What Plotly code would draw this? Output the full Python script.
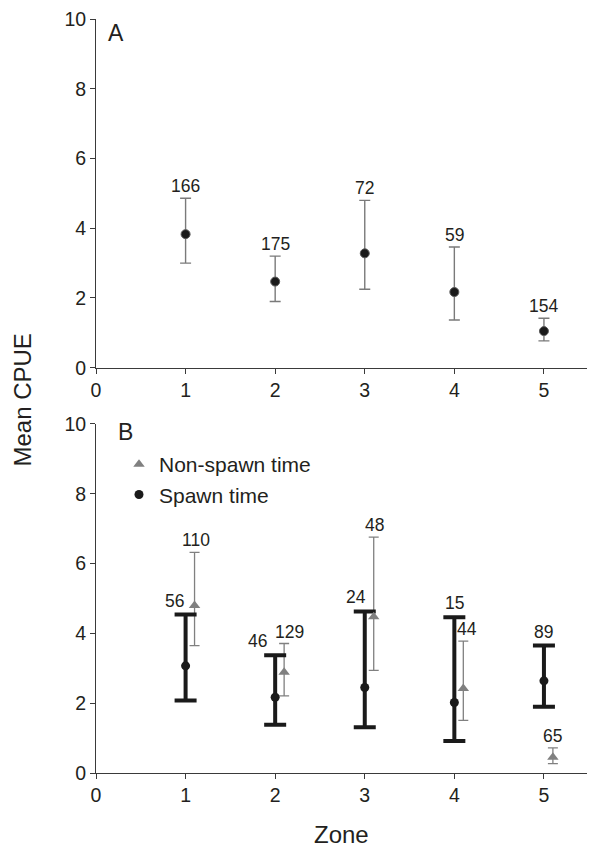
import plotly.graph_objects as go

# ---------------- data ----------------
zones = [1, 2, 3, 4, 5]
x_ticks = [0, 1, 2, 3, 4, 5]
y_ticks = [0, 2, 4, 6, 8, 10]

# Panel A: all times
a_mean = [3.83, 2.47, 3.28, 2.17, 1.05]
a_upper = [4.86, 3.20, 4.80, 3.46, 1.42]
a_lower = [3.00, 1.90, 2.25, 1.37, 0.77]
a_n = [166, 175, 72, 59, 154]

# Panel B: spawn time
s_mean = [3.07, 2.17, 2.45, 2.02, 2.64]
s_upper = [4.54, 3.37, 4.63, 4.46, 3.65]
s_lower = [2.08, 1.38, 1.31, 0.92, 1.90]
s_n = [56, 46, 24, 15, 89]

# Panel B: non-spawn time
ns_mean = [4.80, 2.89, 4.48, 2.42, 0.45]
ns_upper = [6.32, 3.71, 6.76, 3.78, 0.72]
ns_lower = [3.65, 2.21, 2.94, 1.51, 0.27]
ns_n = [110, 129, 48, 44, 65]

# ---------------- style ----------------
FONT = "Liberation Sans, Arial, sans-serif"
TXT = "#231f20"
AXC = "#3a3a3a"
GREY = "#808080"
BLACK = "#1a1a1a"
NS_OFFSET = 0.1

W, H = 587, 839          # page body has an 8px margin
ML, MT, MB = 88, 11, 74
PW = W - ML              # plot width
PH = H - MT - MB         # plot height


def err(mean, up, lo):
    return ([u - m for u, m in zip(up, mean)], [m - l for m, l in zip(mean, lo)])


fig = go.Figure()

# Panel A
ea, eam = err(a_mean, a_upper, a_lower)
fig.add_trace(go.Scatter(
    x=zones, y=a_mean, mode="markers", showlegend=False,
    marker=dict(symbol="circle", size=9, color=BLACK, line=dict(color="#5a5a5a", width=1)),
    error_y=dict(type="data", symmetric=False, array=ea, arrayminus=eam,
                 color="#7a7a7a", thickness=1.4, width=5.5),
    xaxis="x", yaxis="y"))

# Panel B
ns_x = [z + NS_OFFSET for z in zones]
en, enm = err(ns_mean, ns_upper, ns_lower)
es, esm = err(s_mean, s_upper, s_lower)

# non-spawn error bars (beneath)
fig.add_trace(go.Scatter(
    x=ns_x, y=ns_mean, mode="markers", showlegend=False,
    marker=dict(symbol="triangle-up", size=10, color="rgba(0,0,0,0)"),
    error_y=dict(type="data", symmetric=False, array=en, arrayminus=enm,
                 color=GREY, thickness=1.3, width=5),
    xaxis="x2", yaxis="y2", hoverinfo="skip"))

# spawn
fig.add_trace(go.Scatter(
    x=zones, y=s_mean, mode="markers", name="Spawn time", legendrank=2,
    marker=dict(symbol="circle", size=9, color=BLACK),
    error_y=dict(type="data", symmetric=False, array=es, arrayminus=esm,
                 color=BLACK, thickness=4, width=11),
    xaxis="x2", yaxis="y2"))

# non-spawn markers (on top)
fig.add_trace(go.Scatter(
    x=ns_x, y=ns_mean, mode="markers", name="Non-spawn time", legendrank=1,
    marker=dict(symbol="triangle-up", size=10, color=GREY),
    xaxis="x2", yaxis="y2"))

# ---------------- labels ----------------
ann = []
lab_font = dict(family=FONT, size=17.5, color=TXT)
for z, u, n in zip(zones, a_upper, a_n):
    ann.append(dict(x=z, y=u, xref="x", yref="y", text=str(n), showarrow=False,
                    yanchor="bottom", xanchor="center", font=lab_font))
s_shift = [-11, -18, -9, 0, 0]
for z, u, n, sh in zip(zones, s_upper, s_n, s_shift):
    ann.append(dict(x=z, y=u, xref="x2", yref="y2", text=str(n), showarrow=False,
                    yanchor="bottom", xanchor="center", xshift=sh, yshift=2, font=lab_font))
ns_shift = [1, 5, 1, 4, 0]
for z, u, n, sh in zip(ns_x, ns_upper, ns_n, ns_shift):
    ann.append(dict(x=z, y=u, xref="x2", yref="y2", text=str(n), showarrow=False,
                    yanchor="bottom", xanchor="center", xshift=sh, font=lab_font))

ann.append(dict(x=0.04, y=0.961, xref="x domain", yref="y domain", text="A", showarrow=False,
                xanchor="center", yanchor="middle", font=dict(family=FONT, size=23, color=TXT)))
ann.append(dict(x=0.06, y=0.976, xref="x2 domain", yref="y2 domain", text="B", showarrow=False,
                xanchor="center", yanchor="middle", font=dict(family=FONT, size=23, color=TXT)))
ann.append(dict(x=(13.5 - ML) / PW, y=(H - MB - 392) / PH, xref="paper", yref="paper",
                text="Mean CPUE", textangle=-90,
                showarrow=False, xanchor="center", yanchor="middle",
                font=dict(family=FONT, size=24, color=TXT)))
ann.append(dict(x=(333 - ML) / PW, y=(H - MB - 826) / PH, xref="paper", yref="paper", text="Zone",
                showarrow=False, xanchor="center", yanchor="middle",
                font=dict(family=FONT, size=24, color=TXT)))

axis_common = dict(showline=True, linecolor=AXC, linewidth=1, ticks="outside", ticklen=5,
                   tickwidth=1, tickcolor=AXC, showgrid=False, zeroline=False,
                   ticklabeloverflow="allow",
                   tickfont=dict(family=FONT, size=19.5, color=TXT))

fig.update_layout(
    width=W, height=H,
    margin=dict(l=ML, r=0, t=MT, b=MB, pad=0),
    paper_bgcolor="white", plot_bgcolor="white",
    xaxis=dict(domain=[0, 1], range=[0, 5.57], anchor="y", tickvals=x_ticks, **axis_common),
    yaxis=dict(domain=[0.5375, 1], range=[0, 10], anchor="x", tickvals=y_ticks, **axis_common),
    xaxis2=dict(domain=[0, 1], range=[0, 5.57], anchor="y2", tickvals=x_ticks, **axis_common),
    yaxis2=dict(domain=[0, 0.4629], range=[0, 10], anchor="x2", tickvals=y_ticks, **axis_common),
    legend=dict(x=(111 - ML) / PW, y=(H - MB - 436) / PH, xanchor="left", yanchor="top",
                bgcolor="rgba(0,0,0,0)", font=dict(family=FONT, size=21, color=TXT),
                itemsizing="trace", tracegroupgap=0),
    annotations=ann,
    showlegend=True,
)

fig.write_html("out.html")
